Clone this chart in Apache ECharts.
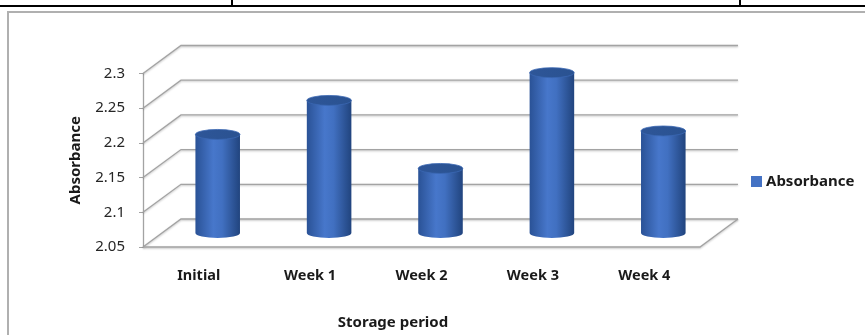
<!DOCTYPE html>
<html>
<head>
<meta charset="utf-8">
<script src="https://cdn.jsdelivr.net/npm/echarts@6/dist/echarts.min.js"></script>
<style>
  html, body { margin: 0; padding: 0; background: #fff; }
  #chart { width: 865px; height: 335px; }
</style>
</head>
<body>
<div id="chart"></div>
<script>
const categories = ["Initial", "Week 1", "Week 2", "Week 3", "Week 4"];
const absorbance = [2.192, 2.241, 2.143, 2.281, 2.197];
const yTicks = [2.05, 2.1, 2.15, 2.2, 2.25, 2.3];
const yMin = 2.05;
const yMax = 2.3;
const yStep = 0.05;

// oblique depth of the fake 3d box
const DX = 38;
const DY = 28;
const FONT = "Noto Sans";

const wallColor = "#a3a3a3";

const renderWalls = (params, api) => {
	const cs = params.coordSys;
	const y = api.coord([0, api.value(1)])[1];
	const x0 = cs.x;
	const x1 = cs.x + cs.width;
	const style = {
		stroke: wallColor,
		lineWidth: 1.3,
		fill: null,
		shadowBlur: 2,
		shadowColor: "rgba(0,0,0,0.25)",
		shadowOffsetY: 1
	};
	const children = [
		{
			type: "polyline",
			shape: { points: [[x0, y], [x0 + DX, y - DY], [x1 + DX, y - DY]] },
			style: style
		}
	];
	if (api.value(1) === yMin) {
		children.push({
			type: "polyline",
			shape: { points: [[x0, y], [x1, y], [x1 + DX, y - DY]] },
			style: style
		});
	}
	return { type: "group", children: children };
};

const renderCylinder = (params, api) => {
	const top = api.coord([api.value(0), api.value(1)]);
	const base = api.coord([api.value(0), yMin]);
	const r = api.size([1, 0])[0] * 0.2;
	const ry = 5;
	const cx = top[0] + DX / 2;
	const ty = top[1] - DY / 2;
	const by = base[1] - DY / 2;
	const body =
		`M${cx - r},${ty} L${cx - r},${by} A${r},${ry} 0 0 0 ${cx + r},${by} L${cx + r},${ty} Z`;
	const cap =
		`M${cx - r},${ty} A${r},${ry} 0 1 0 ${cx + r},${ty} A${r},${ry} 0 1 0 ${cx - r},${ty} Z`;
	return {
		type: "group",
		children: [
			{
				type: "path",
				shape: { pathData: body },
				style: {
					fill: new echarts.graphic.LinearGradient(0, 0, 1, 0, [
						{ offset: 0, color: "#2a5296" },
						{ offset: 0.4, color: "#4777cb" },
						{ offset: 0.6, color: "#4170c1" },
						{ offset: 1, color: "#21447e" }
					])
				}
			},
			{
				type: "path",
				shape: { pathData: cap },
				style: {
					fill: new echarts.graphic.LinearGradient(0, 0, 1, 0, [
						{ offset: 0, color: "#2e5698" },
						{ offset: 1, color: "#2a5291" }
					]),
					stroke: "#3a67b2",
					lineWidth: 0.8
				}
			}
		]
	};
};

const option = {
	animation: false,
	backgroundColor: "#fff",
	textStyle: { fontFamily: FONT },
	grid: {
		left: 143,
		right: 165,
		top: 73.5,
		bottom: 82.5
	},
	legend: {
		data: ["Absorbance"],
		orient: "vertical",
		left: 746,
		top: 169,
		icon: "rect",
		itemWidth: 11,
		itemHeight: 11,
		itemGap: 4,
		textStyle: {
			fontFamily: FONT,
			fontSize: 15,
			fontWeight: "bold",
			color: "#1a1a1a",
			padding: [0, 0, 0, -1]
		}
	},
	xAxis: {
		type: "category",
		data: categories,
		axisLine: { show: false },
		axisTick: { show: false },
		axisLabel: {
			margin: 21,
			fontFamily: FONT,
			fontSize: 14.5,
			fontWeight: "bold",
			color: "#1a1a1a"
		},
		name: "Storage period",
		nameLocation: "middle",
		nameGap: 68,
		nameTextStyle: {
			fontFamily: FONT,
			fontSize: 15,
			fontWeight: "bold",
			color: "#1a1a1a",
			padding: [0, 57, 0, 0]
		}
	},
	yAxis: {
		type: "value",
		min: yMin,
		max: yMax,
		interval: yStep,
		axisLine: { show: true, lineStyle: { color: wallColor, width: 1.3 } },
		axisTick: { show: true, length: 4, lineStyle: { color: wallColor } },
		splitLine: { show: false },
		axisLabel: {
			margin: 18,
			fontFamily: FONT,
			fontSize: 15,
			color: "#262626"
		},
		name: "Absorbance",
		nameLocation: "middle",
		nameGap: 60,
		nameTextStyle: {
			fontFamily: FONT,
			fontSize: 15,
			fontWeight: "bold",
			color: "#1a1a1a"
		}
	},
	graphic: [
		{
			type: "rect",
			silent: true,
			shape: { x: 8, y: 12, width: 900, height: 400 },
			style: { fill: null, stroke: "#b0b0b0", lineWidth: 2 }
		},
		{
			type: "line",
			silent: true,
			shape: { x1: 0, y1: 6, x2: 865, y2: 6 },
			style: { stroke: "#000", lineWidth: 2 }
		},
		{
			type: "line",
			silent: true,
			shape: { x1: 232, y1: 0, x2: 232, y2: 6 },
			style: { stroke: "#000", lineWidth: 2 }
		},
		{
			type: "line",
			silent: true,
			shape: { x1: 740, y1: 0, x2: 740, y2: 6 },
			style: { stroke: "#000", lineWidth: 2 }
		}
	],
	series: [
		{
			name: "walls",
			type: "custom",
			silent: true,
			z: 1,
			renderItem: renderWalls,
			encode: { x: 0, y: 1 },
			data: yTicks.map((v) => [0, v])
		},
		{
			name: "Absorbance",
			type: "custom",
			z: 2,
			itemStyle: { color: "#4472c4" },
			renderItem: renderCylinder,
			encode: { x: 0, y: 1 },
			data: absorbance.map((v, i) => [i, v])
		}
	]
};

const chart = echarts.init(document.getElementById("chart"));
chart.setOption(option);
</script>
</body>
</html>
